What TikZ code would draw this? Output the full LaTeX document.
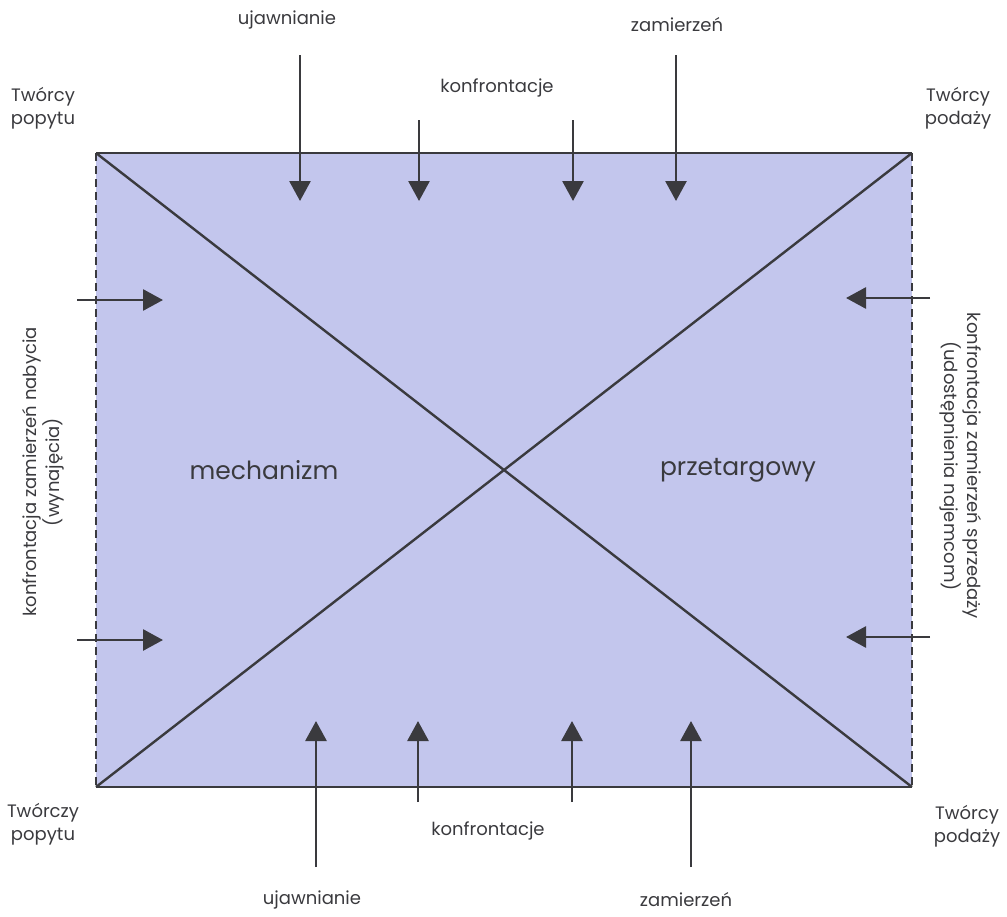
\documentclass[tikz,border=0pt]{standalone}
\usepackage{fontspec}
\setmainfont{Poppins}
\usepackage{xcolor}
\usetikzlibrary{arrows.meta,positioning}
\definecolor{field}{RGB}{195,198,237}
\definecolor{ink}{RGB}{58,58,62}

\begin{document}
\begin{tikzpicture}[
  x=0.5pt,y=-0.5pt,
  lbl/.style={text=ink,font=\fontsize{9}{11.5}\selectfont,align=center,inner sep=0pt},
  big/.style={text=ink,font=\fontsize{12.5}{15}\selectfont,inner sep=0pt},
  edge/.style={draw=ink,line width=1.4pt},
  side/.style={draw=ink,line width=0.8pt,dash pattern=on 4pt off 2.5pt},
  ar/.style={draw=ink,line width=1.4pt,-{Triangle[length=10pt,width=10.5pt]}}
]
\useasboundingbox (0,0) rectangle (1007,916);
% corners of the field
\coordinate (nw) at (96,153);
\coordinate (ne) at (912,153);
\coordinate (sw) at (96,787);
\coordinate (se) at (912,787);
\fill[field] (nw) rectangle (se);
\draw[edge] (nw) -- (ne);
\draw[edge] (sw) -- (se);
\draw[side] (nw) -- (sw);
\draw[side] (ne) -- (se);
\draw[edge,line width=1.2pt] (nw) -- (se);
\draw[edge,line width=1.2pt] (sw) -- (ne);

% corner labels
\node[lbl] (tl) at (43,108) {Twórcy\\popytu};
\node[lbl] (tr) at (958,108) {Twórcy\\podaży};
\node[lbl] (bl) at (43,824) {Twórczy\\popytu};
\node[lbl] (br) at (967,826) {Twórcy\\podaży};

% centre labels
\node[big] (mech) at (264,470) {mechanizm};
\node[big] (przet) at (738,470) {przetargowy};

% top labels and arrows
\node[lbl] (tuj) at (287,20) {ujawnianie};
\node[lbl] (tkon) at (497,88) {konfrontacje};
\node[lbl] (tzam) at (677,25) {zamierzeń};
\coordinate (ta1) at (300,55);  \coordinate (tb1) at (300,201);
\coordinate (ta2) at (419,120); \coordinate (tb2) at (419,201);
\coordinate (ta3) at (573,120); \coordinate (tb3) at (573,201);
\coordinate (ta4) at (676,55);  \coordinate (tb4) at (676,201);
\draw[ar] (ta1) -- (tb1);
\draw[ar] (ta2) -- (tb2);
\draw[ar] (ta3) -- (tb3);
\draw[ar] (ta4) -- (tb4);

% bottom labels and arrows
\node[lbl] (buj) at (312,900) {ujawnianie};
\node[lbl] (bkon) at (488,831) {konfrontacje};
\node[lbl] (bzam) at (686,900) {zamierzeń};
\coordinate (ba1) at (316,867); \coordinate (bb1) at (316,721);
\coordinate (ba2) at (418,802); \coordinate (bb2) at (418,721);
\coordinate (ba3) at (572,802); \coordinate (bb3) at (572,721);
\coordinate (ba4) at (691,867); \coordinate (bb4) at (691,721);
\draw[ar] (ba1) -- (bb1);
\draw[ar] (ba2) -- (bb2);
\draw[ar] (ba3) -- (bb3);
\draw[ar] (ba4) -- (bb4);

% side labels and arrows
\node[lbl,rotate=90] (lside) at (43,472) {konfrontacja zamierzeń nabycia\\(wynajęcia)};
\node[lbl,rotate=-90] (rside) at (961,466) {konfrontacja zamierzeń sprzedaży\\(udostępnienia najemcom)};
\coordinate (la1) at (77,300);  \coordinate (lb1) at (163,300);
\coordinate (la2) at (77,640);  \coordinate (lb2) at (163,640);
\coordinate (ra1) at (930,298); \coordinate (rb1) at (846,298);
\coordinate (ra2) at (930,637); \coordinate (rb2) at (846,637);
\draw[ar] (la1) -- (lb1);
\draw[ar] (la2) -- (lb2);
\draw[ar] (ra1) -- (rb1);
\draw[ar] (ra2) -- (rb2);
\end{tikzpicture}
\end{document}
